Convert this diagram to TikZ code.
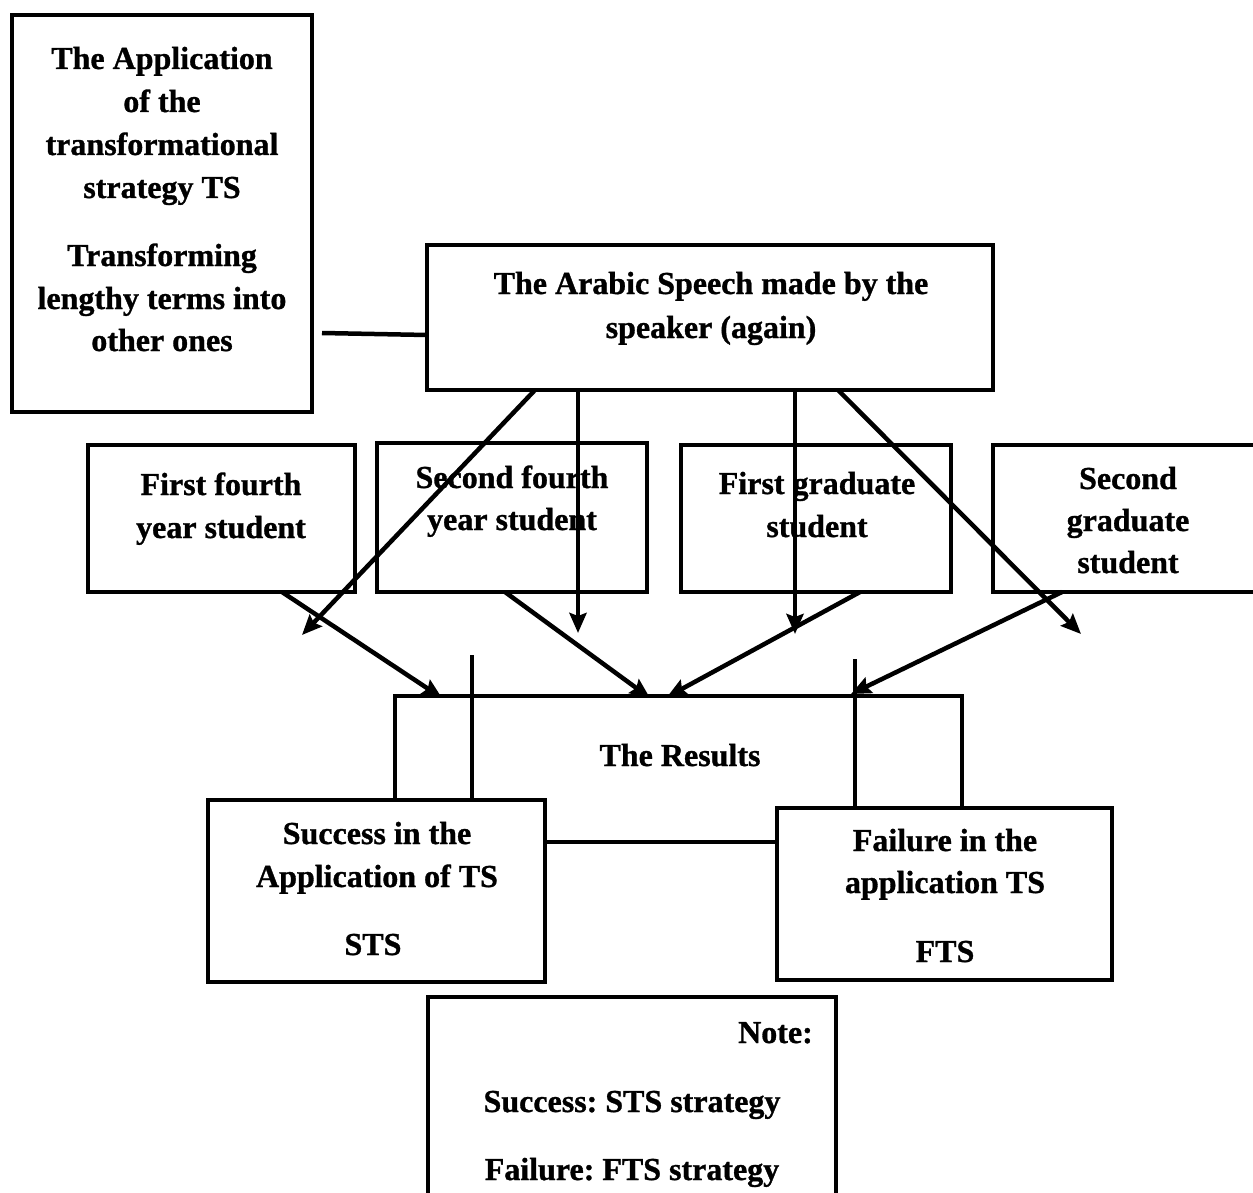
\documentclass[tikz,border=0pt]{standalone}
\usepackage{fontspec}
\setmainfont{Liberation Serif}[BoldFeatures={FakeBold=1}]
\usetikzlibrary{arrows.meta,calc}
\frenchspacing
\begin{document}
\begin{tikzpicture}[x=1pt,y=-1pt,
  bx/.style={draw, line width=4.5pt, inner sep=0pt, outer sep=0pt},
  tx/.style={anchor=base, inner sep=0pt, font=\fontsize{32}{43}\selectfont\bfseries},
  ln/.style={line width=4.5pt},
  arr/.style={ln, -{Stealth[length=20pt,width=17pt,inset=3pt]}}]
\fill[white] (0,0) rectangle (1253,1193);
\useasboundingbox (0,0) rectangle (1253,1193);

% boxes
\node[bx, minimum width=300pt, minimum height=397pt] (app) at (162,213.5) {};
\node[bx, minimum width=566pt, minimum height=145pt] (arabic) at (710,317.5) {};
\node[bx, minimum width=267pt, minimum height=147pt] (s1) at (221.5,518.5) {};
\node[bx, minimum width=270pt, minimum height=149pt] (s2) at (512,517.5) {};
\node[bx, minimum width=270pt, minimum height=147pt] (s3) at (816,518.5) {};
\node[bx, minimum width=280pt, minimum height=147pt] (s4) at (1133,518.5) {};
\node[bx, minimum width=337pt, minimum height=182pt] (succ) at (376.5,891) {};
\node[bx, minimum width=335pt, minimum height=172pt] (fail) at (944.5,894) {};
\node[bx, minimum width=408pt, minimum height=220pt] (note) at (632,1107) {};

% results (open frame)
\coordinate (rl) at (395,696);
\coordinate (rr) at (962,696);
\draw[ln] (rl |- succ.north) -- (rl) -- (rr) -- (rr |- fail.north);

% texts
\node[tx] (t1) at (162,69) {The Application};
\node[tx] (t2) at (162,112) {of the};
\node[tx] (t3) at (162,155) {transformational};
\node[tx] (t4) at (162,198) {strategy TS};
\node[tx] (t5) at (162,266) {Transforming};
\node[tx] (t6) at (162,309) {lengthy terms into};
\node[tx] (t7) at (162,351) {other ones};

\node[tx] (t8) at (711,294) {The Arabic Speech made by the};
\node[tx] (t9) at (711,338) {speaker (again)};

\node[tx] (t10) at (221,495) {First fourth};
\node[tx] (t11) at (221,538) {year student};
\node[tx] (t12) at (512,488) {Second fourth};
\node[tx] (t13) at (512,530) {year student};
\node[tx] (t14) at (817,494) {First graduate};
\node[tx] (t15) at (817,537) {student};
\node[tx] (t16) at (1128,489) {Second};
\node[tx] (t17) at (1128,531) {graduate};
\node[tx] (t18) at (1128,573) {student};

\node[tx] (t19) at (680,766) {The Results};

\node[tx] (t20) at (377,844) {Success in the};
\node[tx] (t21) at (377,887) {Application of TS};
\node[tx] (t22) at (373,955) {STS};
\node[tx] (t23) at (945,851) {Failure in the};
\node[tx] (t24) at (945,893) {application TS};
\node[tx] (t25) at (945,962) {FTS};

\node[tx, anchor=base east] (t26) at (813,1043) {Note:};
\node[tx] (t27) at (632,1112) {Success: STS strategy};
\node[tx] (t28) at (632,1180) {Failure: FTS strategy};

% connector app - arabic
\coordinate (c0) at (322,333);
\draw[ln] (c0) -- (arabic.west |- 0,335);

% arrows from arabic speech
\coordinate (e1) at (302,635);
\coordinate (e2) at (578,633);
\coordinate (e3) at (795,634);
\coordinate (e4) at (1081,634);
\draw[arr] (arabic.south -| 535,0) -- (e1);
\draw[arr] (arabic.south -| e2) -- (e2);
\draw[arr] (arabic.south -| e3) -- (e3);
\draw[arr] (arabic.south -| 838,0) -- (e4);

% arrows from students to results
\coordinate (r1) at (442,698);
\coordinate (r2) at (650,698);
\coordinate (r3) at (667,697);
\coordinate (r4) at (851,694);
\draw[arr] (s1.south -| 282,0) -- (r1);
\draw[arr] (s2.south -| 505,0) -- (r2);
\draw[arr] (s3.south -| 860,0) -- (r3);
\draw[arr] (s4.south -| 1062,0) -- (r4);

% vertical lines into success / failure
\coordinate (v1) at (472,655);
\coordinate (v2) at (855,659);
\draw[line width=3.5pt] (v1) -- (succ.north -| v1);
\draw[line width=3.5pt] (v2) -- (fail.north -| v2);

% success - failure
\draw[ln] (succ.east |- 0,842) -- (fail.west |- 0,842);
\end{tikzpicture}
\end{document}
